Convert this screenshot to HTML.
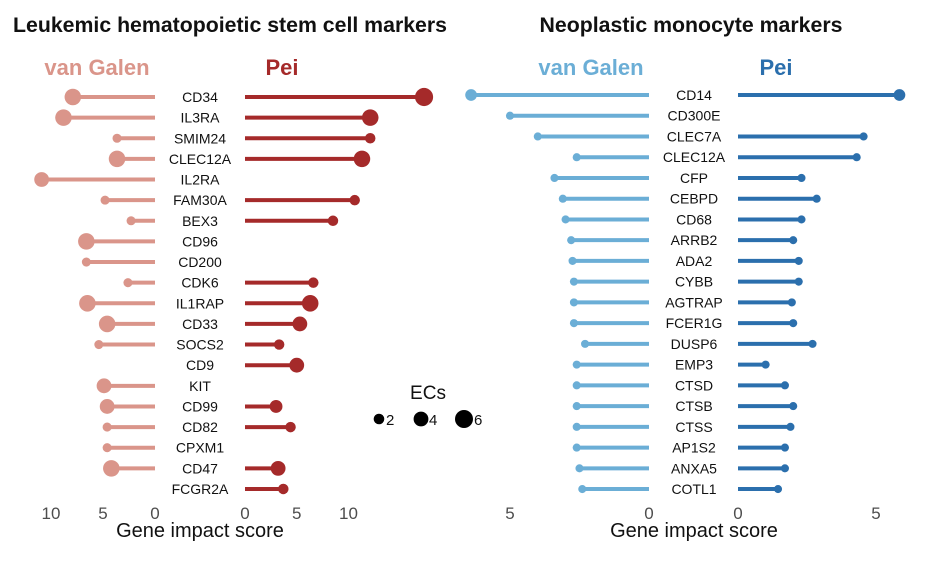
<!DOCTYPE html>
<html><head><meta charset="utf-8">
<style>
html,body{margin:0;padding:0;background:#fff;}
svg{display:block;font-family:"Liberation Sans",Arial,sans-serif;}
</style></head>
<body>
<svg id="chart" width="929" height="572" viewBox="0 0 929 572">
  <text x="230" y="32" text-anchor="middle" font-size="21" font-weight="bold" fill="#111" textLength="434" lengthAdjust="spacingAndGlyphs">Leukemic hematopoietic stem cell markers</text>
  <text x="691" y="32" text-anchor="middle" font-size="21" font-weight="bold" fill="#111" textLength="303" lengthAdjust="spacingAndGlyphs">Neoplastic monocyte markers</text>
  <text x="97" y="75" text-anchor="middle" font-size="22" font-weight="bold" fill="#da958a">van Galen</text>
  <text x="282" y="75" text-anchor="middle" font-size="22" font-weight="bold" fill="#a52a2a">Pei</text>
  <text x="591" y="75" text-anchor="middle" font-size="22" font-weight="bold" fill="#6baed6">van Galen</text>
  <text x="776" y="75" text-anchor="middle" font-size="22" font-weight="bold" fill="#2b6fad">Pei</text>
  <g id="marks"></g>
  <g>
    <text x="428" y="399" text-anchor="middle" font-size="19" fill="#111">ECs</text>
    <circle cx="379" cy="419" r="5.3" fill="#000"/>
    <text x="386" y="425" font-size="15" fill="#111">2</text>
    <circle cx="421" cy="419" r="7.4" fill="#000"/>
    <text x="429" y="425" font-size="15" fill="#111">4</text>
    <circle cx="464" cy="419" r="9" fill="#000"/>
    <text x="474" y="425" font-size="15" fill="#111">6</text>
  </g>
  <text x="200" y="537" text-anchor="middle" font-size="20" fill="#111">Gene impact score</text>
  <text x="694" y="537" text-anchor="middle" font-size="20" fill="#111">Gene impact score</text>
</svg>
<script>
const leftGenes = ["CD34","IL3RA","SMIM24","CLEC12A","IL2RA","FAM30A","BEX3","CD96","CD200","CDK6","IL1RAP","CD33","SOCS2","CD9","KIT","CD99","CD82","CPXM1","CD47","FCGR2A"];
const leftVanGalen = [7.9,8.8,3.65,3.65,10.9,4.8,2.3,6.6,6.6,2.6,6.5,4.6,5.4,null,4.9,4.6,4.6,4.6,4.2,null];
const leftVanGalenECs = [5,5,1.5,5,4,1.5,1.5,5,1.5,1.5,5,5,1.5,null,4,4,1.5,1.5,5,null];
const leftPei = [17.3,12.1,12.1,11.3,null,10.6,8.5,null,null,6.6,6.3,5.3,3.3,5.0,null,3.0,4.4,null,3.2,3.7];
const leftPeiECs = [6,5,2,5,null,2,2,null,null,2,5,4,2,4,null,3,2,null,4,2];
const leftTicks = [0,5,10];

const rightGenes = ["CD14","CD300E","CLEC7A","CLEC12A","CFP","CEBPD","CD68","ARRB2","ADA2","CYBB","AGTRAP","FCER1G","DUSP6","EMP3","CTSD","CTSB","CTSS","AP1S2","ANXA5","COTL1"];
const rightVanGalen = [6.4,5.0,4.0,2.6,3.4,3.1,3.0,2.8,2.75,2.7,2.7,2.7,2.3,2.6,2.6,2.6,2.6,2.6,2.5,2.4];
const rightVanGalenECs = [2.5,1.2,1.2,1.2,1.2,1.2,1.2,1.2,1.2,1.2,1.2,1.2,1.2,1.2,1.2,1.2,1.2,1.2,1.2,1.2];
const rightPei = [5.85,null,4.55,4.3,2.3,2.85,2.3,2.0,2.2,2.2,1.95,2.0,2.7,1.0,1.7,2.0,1.9,1.7,1.7,1.45];
const rightPeiECs = [2.5,null,1.2,1.2,1.2,1.2,1.2,1.2,1.2,1.2,1.2,1.2,1.2,1.2,1.2,1.2,1.2,1.2,1.2,1.2];
const rightTicks = [0,5];

const NS = "http://www.w3.org/2000/svg";
const g = document.getElementById("marks");
function mk(tag, attrs){const e=document.createElementNS(NS,tag);for(const k in attrs)e.setAttribute(k,attrs[k]);g.appendChild(e);return e;}
function rad(ec){return 3.7*Math.sqrt(ec);}

function panel(side, genes, vg, vgEc, pei, peiEc, ticks, cfg){
  const yScale = i => cfg.y0 + i*cfg.step;
  const xVg = v => cfg.vgZero - v*cfg.vgK;
  const xPei = v => cfg.peiZero + v*cfg.peiK;
  genes.forEach((name,i)=>{
    const y = yScale(i);
    const t = mk("text",{x:cfg.labelX,y:y+5,"text-anchor":"middle","font-size":"14",fill:"#111"});
    t.textContent = name;
    
    
    if (vg[i]!=null){
      const l = mk("line",{x1:cfg.vgZero,y1:y,x2:xVg(vg[i]),y2:y,stroke:cfg.vgColor,"stroke-width":"4"});
      
      
      const c = mk("circle",{cx:xVg(vg[i]),cy:y,r:rad(vgEc[i]),fill:cfg.vgColor});
      
      
    }
    if (pei[i]!=null){
      const l = mk("line",{x1:cfg.peiZero,y1:y,x2:xPei(pei[i]),y2:y,stroke:cfg.peiColor,"stroke-width":"4"});
      
      
      const c = mk("circle",{cx:xPei(pei[i]),cy:y,r:rad(peiEc[i]),fill:cfg.peiColor});
      
      
    }
  });
  ticks.forEach(v=>{
    const a = mk("text",{x:xVg(v),y:519,"text-anchor":"middle","font-size":"17",fill:"#4d4d4d"});
    a.textContent = v;
    
    
    const b = mk("text",{x:xPei(v),y:519,"text-anchor":"middle","font-size":"17",fill:"#4d4d4d"});
    b.textContent = v;
    
    
  });
}
panel("left", leftGenes, leftVanGalen, leftVanGalenECs, leftPei, leftPeiECs, leftTicks,
  {y0:97,step:20.63,labelX:200,vgZero:155,vgK:10.4,peiZero:245,peiK:10.35,vgColor:"#da958a",peiColor:"#a52a2a"});
panel("right", rightGenes, rightVanGalen, rightVanGalenECs, rightPei, rightPeiECs, rightTicks,
  {y0:95,step:20.74,labelX:694,vgZero:649,vgK:27.8,peiZero:738,peiK:27.6,vgColor:"#6baed6",peiColor:"#2b6fad"});
</script>
</body></html>
